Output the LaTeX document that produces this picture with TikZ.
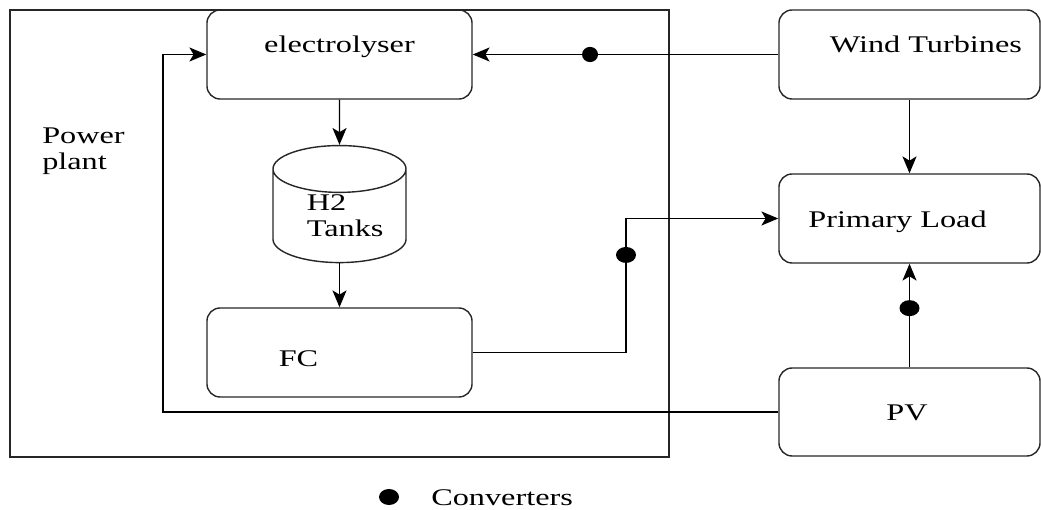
\documentclass[tikz,border=0pt]{standalone}
\usepackage{fontspec}
\setmainfont{Liberation Serif}[FakeStretch=1.35]
\usetikzlibrary{shapes.geometric,arrows.meta}

\begin{document}
\begin{tikzpicture}[
  x=0.025cm, y=-0.025cm,
  >={Stealth[length=12pt,width=10pt,inset=3pt]},
  font=\fontsize{17}{18.5}\selectfont,
  unit/.style={draw=black!85,line width=1pt,rounded corners=0.33cm,minimum width=6.625cm,minimum height=2.225cm,inner sep=0pt},
  source/.style={unit,minimum width=6.525cm},
  tank/.style={cylinder,shape border rotate=90,shape aspect=.5,draw=black!85,line width=1pt,
    minimum width=3.325cm,minimum height=2.925cm,inner sep=2pt,text width=2.2cm},
  conv/.style={ellipse,fill=black,inner sep=0pt,minimum width=0.5cm,minimum height=0.4cm},
  flow/.style={->,line width=1pt}
]
  \useasboundingbox (0,0) rectangle (1041,510);

  % power plant frame
  \node[draw=black!85,line width=1pt,minimum width=16.475cm,minimum height=11.175cm,inner sep=0pt] (plant) at (339.5,233.5) {};
  \node[align=left,anchor=north west,inner sep=0pt] (plantname) at (42,128) {Power\\plant};

  \node[unit,label={[yshift=0.2cm]center:electrolyser}] (elec) at (339.5,54.5) {};
  \node[tank,label={[align=left,xshift=0.14cm,yshift=0.1cm]center:H2\\Tanks}] (tanks) at (339.5,219.5) {};
  \node[unit,label={[xshift=-1.025cm,yshift=-0.16cm]center:FC}] (fc) at (339.5,352.5) {};

  \node[source,label={[xshift=0.41cm,yshift=0.26cm]center:Wind Turbines}] (wind) at (909.5,54.5) {};
  \node[source,label={[xshift=-0.3cm,yshift=-0.07cm]center:Primary Load}] (load) at (909.5,218.5) {};
  \node[source,minimum height=2.2cm,label={[xshift=-0.06cm,yshift=-0.02cm]center:PV}] (pv) at (909.5,412) {};

  \coordinate (ret) at (163,412);
  \coordinate (fcbend) at (626,352.5);

  \draw[flow] (elec) -- (tanks);
  \draw[flow] (tanks) -- (fc);
  \draw[flow] (wind) -- node[conv,pos=.616,minimum width=0.4cm,minimum height=0.38cm] (c1) {} (elec);
  \draw[flow] (fc.east) -- (fcbend) |- node[conv,pos=.364] (c2) {} (load.west);
  \draw[flow] (wind) -- (load);
  \draw[flow] (pv) -- node[conv,pos=.571] (c3) {} (load);
  \draw[flow] (pv.west) -- (ret) |- (elec.west);

  % legend
  \node[conv] (key) at (389,497) {};
  \node[anchor=base west,inner sep=0pt] (keyname) at (431,506) {Converters};
\end{tikzpicture}
\end{document}
